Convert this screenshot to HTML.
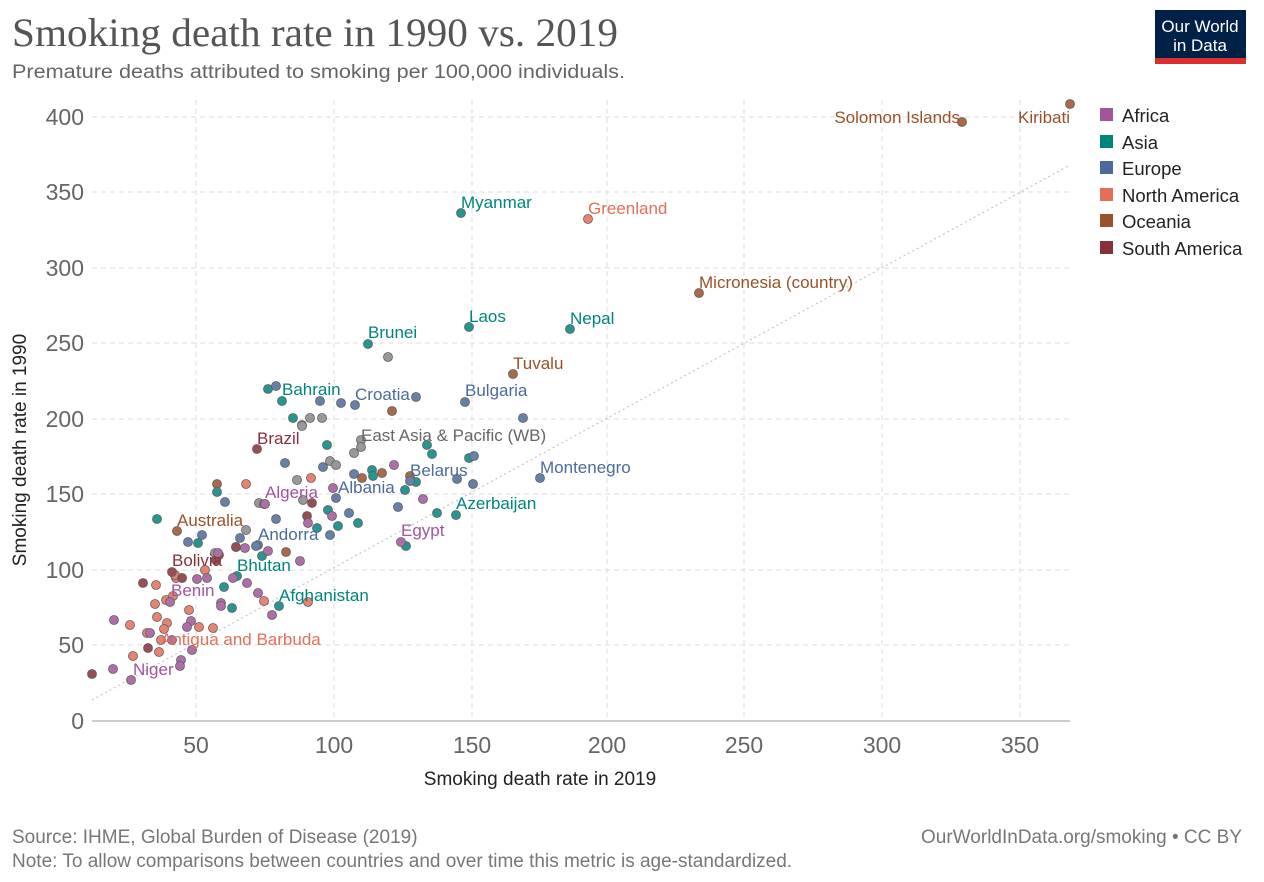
<!DOCTYPE html>
<html><head><meta charset="utf-8"><style>
body{margin:0;background:#fff;}
svg{font-family:"Liberation Sans",Arial,sans-serif;}
</style></head><body>
<svg width="1264" height="877" viewBox="0 0 1264 877" xmlns="http://www.w3.org/2000/svg">
<text x="12" y="46" font-family="Liberation Serif,serif" font-size="40" fill="#555" textLength="606" lengthAdjust="spacingAndGlyphs">Smoking death rate in 1990 vs. 2019</text>
<text x="12" y="78" font-size="19" fill="#666" textLength="613" lengthAdjust="spacingAndGlyphs">Premature deaths attributed to smoking per 100,000 individuals.</text>
<rect x="1155" y="10" width="91" height="54" fill="#002147"/>
<rect x="1155" y="58" width="91" height="6" fill="#dc2e2e"/>
<text x="1200" y="32" font-size="17" fill="#fff" text-anchor="middle">Our World</text>
<text x="1200" y="51" font-size="17" fill="#fff" text-anchor="middle">in Data</text>
<g stroke="#ddd" stroke-dasharray="5,4" stroke-width="1">
<line x1="92" x2="1070" y1="645" y2="645"/><line x1="92" x2="1070" y1="570" y2="570"/>
<line x1="92" x2="1070" y1="494" y2="494"/><line x1="92" x2="1070" y1="419" y2="419"/>
<line x1="92" x2="1070" y1="343" y2="343"/><line x1="92" x2="1070" y1="268" y2="268"/>
<line x1="92" x2="1070" y1="192" y2="192"/><line x1="92" x2="1070" y1="117" y2="117"/>
<line x1="196" x2="196" y1="100" y2="721"/><line x1="334" x2="334" y1="100" y2="721"/>
<line x1="472" x2="472" y1="100" y2="721"/><line x1="607" x2="607" y1="100" y2="721"/>
<line x1="744" x2="744" y1="100" y2="721"/><line x1="882" x2="882" y1="100" y2="721"/>
<line x1="1020" x2="1020" y1="100" y2="721"/>
</g>
<line x1="92" x2="1070" y1="721" y2="721" stroke="#999"/>
<line x1="92" y1="700" x2="1070" y2="165" stroke="#bbb" stroke-dasharray="2,3"/>
<g font-size="23" fill="#666" text-anchor="end">
<text x="84" y="729">0</text><text x="84" y="653">50</text><text x="84" y="578">100</text>
<text x="84" y="502">150</text><text x="84" y="427">200</text><text x="84" y="351">250</text>
<text x="84" y="276">300</text><text x="84" y="200">350</text><text x="84" y="125">400</text>
</g>
<g font-size="23" fill="#666" text-anchor="middle">
<text x="196" y="753">50</text><text x="334" y="753">100</text><text x="472" y="753">150</text>
<text x="607" y="753">200</text><text x="744" y="753">250</text><text x="882" y="753">300</text><text x="1020" y="753">350</text>
</g>
<text x="540" y="785" font-size="19" fill="#222" text-anchor="middle">Smoking death rate in 2019</text>
<text transform="translate(26,450) rotate(-90)" font-size="19" fill="#222" text-anchor="middle">Smoking death rate in 1990</text>
<g stroke-width="0.8" stroke="#444" opacity="0.85">
<g fill="#9a5129">
<circle cx="1070" cy="104" r="4.5"/><circle cx="962" cy="122" r="4.5"/><circle cx="699" cy="293" r="4.5"/><circle cx="513" cy="374" r="4.5"/><circle cx="177" cy="531" r="4.5"/><circle cx="392" cy="411" r="4.5"/><circle cx="382" cy="473" r="4.5"/><circle cx="410" cy="476" r="4.5"/><circle cx="182" cy="578" r="4.5"/><circle cx="286" cy="552" r="4.5"/><circle cx="217" cy="484" r="4.5"/><circle cx="236" cy="547" r="4.5"/><circle cx="362" cy="478" r="4.5"/>
</g>
<g fill="#00847e">
<circle cx="461" cy="213" r="4.5"/><circle cx="469" cy="327" r="4.5"/><circle cx="570" cy="329" r="4.5"/><circle cx="368" cy="344" r="4.5"/><circle cx="268" cy="389" r="4.5"/><circle cx="282" cy="401" r="4.5"/><circle cx="456" cy="515" r="4.5"/><circle cx="237" cy="576" r="4.5"/><circle cx="279" cy="606" r="4.5"/><circle cx="157" cy="519" r="4.5"/><circle cx="293" cy="418" r="4.5"/><circle cx="327" cy="445" r="4.5"/><circle cx="372" cy="470" r="4.5"/><circle cx="427" cy="445" r="4.5"/><circle cx="432" cy="454" r="4.5"/><circle cx="469" cy="458" r="4.5"/><circle cx="437" cy="513" r="4.5"/><circle cx="405" cy="490" r="4.5"/><circle cx="358" cy="523" r="4.5"/><circle cx="338" cy="526" r="4.5"/><circle cx="406" cy="546" r="4.5"/><circle cx="217" cy="492" r="4.5"/><circle cx="232" cy="608" r="4.5"/><circle cx="224" cy="587" r="4.5"/><circle cx="262" cy="556" r="4.5"/><circle cx="198" cy="543" r="4.5"/><circle cx="317" cy="528" r="4.5"/><circle cx="328" cy="510" r="4.5"/><circle cx="416" cy="482" r="4.5"/><circle cx="373" cy="476" r="4.5"/>
</g>
<g fill="#4c6a9c">
<circle cx="276" cy="386" r="4.5"/><circle cx="320" cy="401" r="4.5"/><circle cx="341" cy="403" r="4.5"/><circle cx="355" cy="405" r="4.5"/><circle cx="416" cy="397" r="4.5"/><circle cx="465" cy="402" r="4.5"/><circle cx="523" cy="418" r="4.5"/><circle cx="474" cy="456" r="4.5"/><circle cx="540" cy="478" r="4.5"/><circle cx="473" cy="484" r="4.5"/><circle cx="457" cy="479" r="4.5"/><circle cx="410" cy="481" r="4.5"/><circle cx="354" cy="474" r="4.5"/><circle cx="323" cy="467" r="4.5"/><circle cx="336" cy="498" r="4.5"/><circle cx="349" cy="513" r="4.5"/><circle cx="258" cy="545" r="4.5"/><circle cx="285" cy="463" r="4.5"/><circle cx="302" cy="425" r="4.5"/><circle cx="240" cy="538" r="4.5"/><circle cx="276" cy="519" r="4.5"/><circle cx="398" cy="507" r="4.5"/><circle cx="330" cy="535" r="4.5"/><circle cx="202" cy="535" r="4.5"/><circle cx="188" cy="542" r="4.5"/><circle cx="256" cy="546" r="4.5"/><circle cx="225" cy="502" r="4.5"/>
</g>
<g fill="#888">
<circle cx="388" cy="357" r="4.5"/><circle cx="322" cy="418" r="4.5"/><circle cx="310" cy="418" r="4.5"/><circle cx="361" cy="440" r="4.5"/><circle cx="354" cy="453" r="4.5"/><circle cx="330" cy="461" r="4.5"/><circle cx="297" cy="480" r="4.5"/><circle cx="303" cy="500" r="4.5"/><circle cx="259" cy="503" r="4.5"/><circle cx="246" cy="530" r="4.5"/><circle cx="215" cy="553" r="4.5"/><circle cx="302" cy="426" r="4.5"/><circle cx="336" cy="465" r="4.5"/><circle cx="361" cy="447" r="4.5"/>
</g>
<g fill="#e56e5a">
<circle cx="588" cy="219" r="4.5"/><circle cx="246" cy="484" r="4.5"/><circle cx="311" cy="478" r="4.5"/><circle cx="161" cy="640" r="4.5"/><circle cx="155" cy="604" r="4.5"/><circle cx="166" cy="600" r="4.5"/><circle cx="173" cy="596" r="4.5"/><circle cx="157" cy="617" r="4.5"/><circle cx="167" cy="623" r="4.5"/><circle cx="189" cy="610" r="4.5"/><circle cx="199" cy="627" r="4.5"/><circle cx="213" cy="628" r="4.5"/><circle cx="130" cy="625" r="4.5"/><circle cx="133" cy="656" r="4.5"/><circle cx="159" cy="652" r="4.5"/><circle cx="147" cy="633" r="4.5"/><circle cx="176" cy="578" r="4.5"/><circle cx="156" cy="585" r="4.5"/><circle cx="205" cy="570" r="4.5"/><circle cx="264" cy="601" r="4.5"/><circle cx="308" cy="602" r="4.5"/><circle cx="164" cy="629" r="4.5"/><circle cx="175" cy="575" r="4.5"/>
</g>
<g fill="#883039">
<circle cx="257" cy="449" r="4.5"/><circle cx="143" cy="583" r="4.5"/><circle cx="172" cy="572" r="4.5"/><circle cx="182" cy="578" r="4.5"/><circle cx="92" cy="674" r="4.5"/><circle cx="148" cy="648" r="4.5"/><circle cx="219" cy="555" r="4.5"/><circle cx="236" cy="547" r="4.5"/><circle cx="307" cy="516" r="4.5"/><circle cx="312" cy="503" r="4.5"/><circle cx="264" cy="504" r="4.5"/><circle cx="216" cy="560" r="4.5"/>
</g>
<g fill="#a2559c">
<circle cx="131" cy="680" r="4.5"/><circle cx="114" cy="620" r="4.5"/><circle cx="113" cy="669" r="4.5"/><circle cx="181" cy="660" r="4.5"/><circle cx="180" cy="666" r="4.5"/><circle cx="150" cy="633" r="4.5"/><circle cx="170" cy="602" r="4.5"/><circle cx="191" cy="621" r="4.5"/><circle cx="187" cy="627" r="4.5"/><circle cx="207" cy="578" r="4.5"/><circle cx="221" cy="603" r="4.5"/><circle cx="233" cy="578" r="4.5"/><circle cx="245" cy="548" r="4.5"/><circle cx="268" cy="551" r="4.5"/><circle cx="258" cy="593" r="4.5"/><circle cx="272" cy="615" r="4.5"/><circle cx="300" cy="561" r="4.5"/><circle cx="265" cy="504" r="4.5"/><circle cx="394" cy="465" r="4.5"/><circle cx="423" cy="499" r="4.5"/><circle cx="401" cy="542" r="4.5"/><circle cx="333" cy="488" r="4.5"/><circle cx="332" cy="516" r="4.5"/><circle cx="308" cy="523" r="4.5"/><circle cx="247" cy="583" r="4.5"/><circle cx="172" cy="640" r="4.5"/><circle cx="192" cy="650" r="4.5"/><circle cx="218" cy="553" r="4.5"/><circle cx="221" cy="606" r="4.5"/><circle cx="197" cy="579" r="4.5"/>
</g>
</g>
<g font-size="17">
<text x="1070" y="123" fill="#9a5129" text-anchor="end">Kiribati</text>
<text x="960" y="123" fill="#9a5129" text-anchor="end">Solomon Islands</text>
<text x="461" y="208" fill="#00847e">Myanmar</text>
<text x="588" y="214" fill="#e56e5a">Greenland</text>
<text x="699" y="288" fill="#9a5129">Micronesia (country)</text>
<text x="469" y="322" fill="#00847e">Laos</text>
<text x="570" y="324" fill="#00847e">Nepal</text>
<text x="368" y="338" fill="#00847e">Brunei</text>
<text x="513" y="369" fill="#9a5129">Tuvalu</text>
<text x="282" y="395" fill="#00847e">Bahrain</text>
<text x="355" y="400" fill="#4c6a9c">Croatia</text>
<text x="465" y="396" fill="#4c6a9c">Bulgaria</text>
<text x="361" y="441" fill="#666">East Asia &amp; Pacific (WB)</text>
<text x="257" y="444" fill="#883039">Brazil</text>
<text x="410" y="476" fill="#4c6a9c">Belarus</text>
<text x="540" y="473" fill="#4c6a9c">Montenegro</text>
<text x="338" y="493" fill="#4c6a9c">Albania</text>
<text x="265" y="498" fill="#a2559c">Algeria</text>
<text x="456" y="509" fill="#00847e">Azerbaijan</text>
<text x="177" y="526" fill="#9a5129">Australia</text>
<text x="401" y="536" fill="#a2559c">Egypt</text>
<text x="258" y="540" fill="#4c6a9c">Andorra</text>
<text x="172" y="566" fill="#883039">Bolivia</text>
<text x="237" y="571" fill="#00847e">Bhutan</text>
<text x="279" y="601" fill="#00847e">Afghanistan</text>
<text x="171" y="596" fill="#a2559c">Benin</text>
<text x="161" y="645" fill="#e56e5a">Antigua and Barbuda</text>
<text x="133" y="675" fill="#a2559c">Niger</text>
</g>
<g font-size="18.5" fill="#222">
<rect x="1100" y="108" width="13" height="13" fill="#a2559c"/><text x="1122" y="122">Africa</text>
<rect x="1100" y="135" width="13" height="13" fill="#00847e"/><text x="1122" y="149">Asia</text>
<rect x="1100" y="161" width="13" height="13" fill="#4c6a9c"/><text x="1122" y="175">Europe</text>
<rect x="1100" y="188" width="13" height="13" fill="#e56e5a"/><text x="1122" y="202">North America</text>
<rect x="1100" y="214" width="13" height="13" fill="#9a5129"/><text x="1122" y="228">Oceania</text>
<rect x="1100" y="241" width="13" height="13" fill="#883039"/><text x="1122" y="255">South America</text>
</g>
<g font-size="19" fill="#777">
<text x="12" y="843">Source: IHME, Global Burden of Disease (2019)</text>
<text x="12" y="867">Note: To allow comparisons between countries and over time this metric is age-standardized.</text>
<text x="1242" y="843" text-anchor="end">OurWorldInData.org/smoking • CC BY</text>
</g>
</svg>
</body></html>
